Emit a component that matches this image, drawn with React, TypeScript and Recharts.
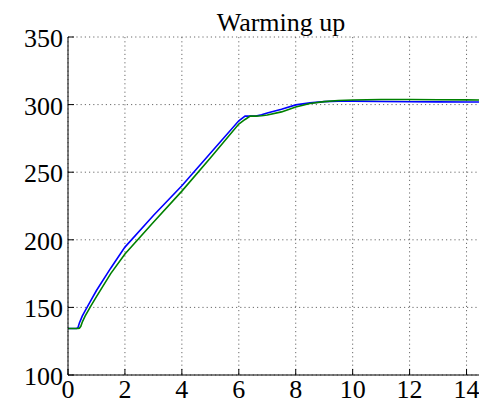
import { LineChart, Line, XAxis, YAxis, CartesianGrid } from "recharts";

const times = [
  0, 0.3, 0.35, 0.4, 0.45, 0.5, 0.6, 0.8, 1, 1.5, 2, 3, 4, 5, 6, 6.22, 6.4,
  6.6, 6.8, 7, 7.5, 8, 8.5, 9, 9.5, 10, 11, 12, 13, 14, 15,
];
const blueTemps = [
  134.4, 134.4, 135, 138.5, 141, 143.5, 147.5, 155, 162.5, 179, 194.6, 218,
  240, 264, 288, 291.5, 291.5, 291.6, 292.5, 293.8, 296.6, 299.8, 301.3, 302.2,
  302.6, 302.6, 302.3, 302.1, 302, 301.9, 301.9,
];
const greenTemps = [
  134.4, 134.4, 134.4, 134.6, 136, 139, 143.5, 151, 158, 175, 189.5, 213, 236,
  260.5, 285.6, 289, 291.5, 291.5, 291.7, 292.3, 294.6, 298.3, 300.8, 302.2,
  303, 303.4, 303.8, 303.8, 303.6, 303.5, 303.4,
];
const xTicks = [0, 2, 4, 6, 8, 10, 12, 14];
const yTicks = [100, 150, 200, 250, 300, 350];
const title = "Warming up";

const data = times.map((t, i) => ({ t, blue: blueTemps[i], green: greenTemps[i] }));

const FONT = "'Liberation Serif', 'Times New Roman', serif";
const TICK_LEN = 6;

function BottomTick(props: any) {
  const { x, y, payload } = props;
  return (
    <g>
      <line x1={x} y1={y} x2={x} y2={y - TICK_LEN} stroke="#000" strokeWidth={1} />
      <text x={x} y={y + 23} textAnchor="middle" fontSize={26} fontFamily={FONT} fill="#000">
        {payload.value}
      </text>
    </g>
  );
}

function TopTick(props: any) {
  const { x, y } = props;
  return <line x1={x} y1={y} x2={x} y2={y + TICK_LEN} stroke="#000" strokeWidth={1} />;
}

function LeftTick(props: any) {
  const { x, y, payload } = props;
  return (
    <g>
      <line x1={x} y1={y} x2={x + TICK_LEN} y2={y} stroke="#000" strokeWidth={1} />
      <text x={x - 5} y={y + 10} textAnchor="end" fontSize={26} fontFamily={FONT} fill="#000">
        {payload.value}
      </text>
    </g>
  );
}

export default function App() {
  return (
    <div
      style={{
        position: "absolute",
        left: 0,
        top: 0,
        width: 479,
        height: 403,
        overflow: "hidden",
        background: "#fff",
      }}
    >
      <div
        style={{
          position: "absolute",
          left: 131,
          top: 10,
          width: 300,
          textAlign: "center",
          fontFamily: FONT,
          fontSize: 26,
          lineHeight: "26px",
          color: "#000",
          zIndex: 2,
        }}
      >
        {title}
      </div>
      <LineChart
        width={500}
        height={403}
        data={data}
        margin={{ top: 37, right: 5, left: 0, bottom: 0 }}
      >
        <CartesianGrid stroke="#444" strokeWidth={0.8} strokeDasharray="1.2 3" />
        <XAxis
          dataKey="t"
          type="number"
          domain={[0, 15]}
          ticks={xTicks}
          interval={0}
          height={28}
          tickSize={0}
          tickMargin={0}
          tick={BottomTick}
          tickLine={false}
          axisLine={{ stroke: "#000", strokeWidth: 1 }}
          allowDataOverflow
        />
        <XAxis
          xAxisId="top"
          orientation="top"
          dataKey="t"
          type="number"
          domain={[0, 15]}
          ticks={xTicks}
          interval={0}
          height={0}
          tickSize={0}
          tickMargin={0}
          tick={TopTick}
          tickLine={false}
          axisLine={{ stroke: "#000", strokeWidth: 1 }}
          allowDataOverflow
        />
        <YAxis
          type="number"
          domain={[100, 350]}
          ticks={yTicks}
          interval={0}
          width={68}
          tickSize={0}
          tickMargin={0}
          tick={LeftTick}
          tickLine={false}
          axisLine={{ stroke: "#000", strokeWidth: 1 }}
          allowDataOverflow
        />
        <Line
          dataKey="blue"
          stroke="#0000ff"
          strokeWidth={1.6}
          dot={false}
          type="linear"
          isAnimationActive={false}
        />
        <Line
          dataKey="green"
          stroke="#008000"
          strokeWidth={1.6}
          dot={false}
          type="linear"
          isAnimationActive={false}
        />
      </LineChart>
    </div>
  );
}
